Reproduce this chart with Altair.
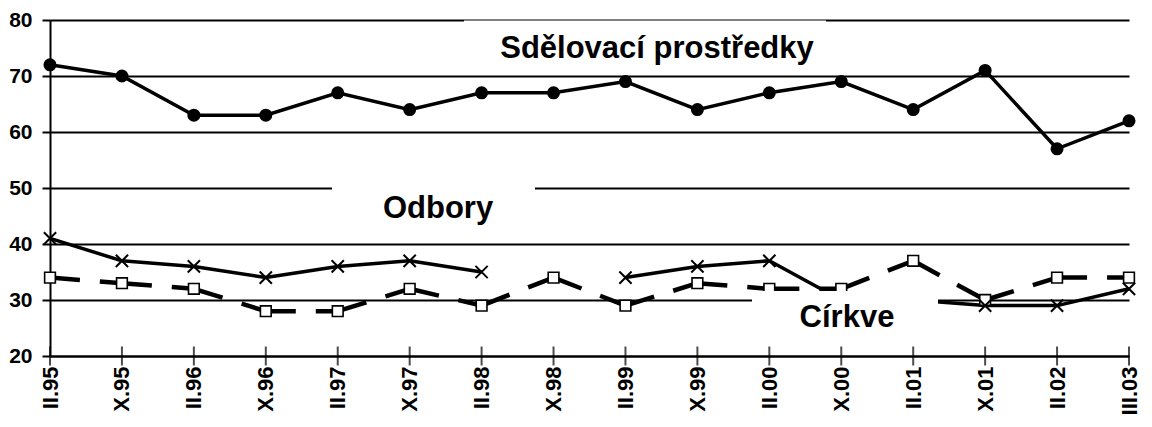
import altair as alt
import pandas as pd

# ---- data ----
periods = ["II.95", "X.95", "II.96", "X.96", "II.97", "X.97", "II.98", "X.98",
           "II.99", "X.99", "II.00", "X.00", "II.01", "X.01", "II.02", "III.03"]
media = [72, 70, 63, 63, 67, 64, 67, 67, 69, 64, 67, 69, 64, 71, 57, 62]
unions = [41, 37, 36, 34, 36, 37, 35, None, 34, 36, 37, 30, 30, 29, 29, 32]
churches = [34, 33, 32, 28, 28, 32, 29, 34, 29, 33, 32, 32, 37, 30, 34, 34]
y_ticks = [20, 30, 40, 50, 60, 70, 80]
series_labels = ["Sdělovací prostředky", "Odbory", "Církve"]

FONT = "Liberation Sans"
W, H = 1079, 336


def points(values):
    rows = [{"period": p, "value": v} for p, v in zip(periods, values) if v is not None]
    return pd.DataFrame(rows)


def segments(values):
    rows = []
    for i in range(len(periods) - 1):
        a, b = values[i], values[i + 1]
        if a is None or b is None:
            continue
        rows.append({"seg": i, "idx": 0, "period": periods[i], "value": a})
        rows.append({"seg": i, "idx": 1, "period": periods[i + 1], "value": b})
    return pd.DataFrame(rows)


x_enc = alt.X(
    "period:N",
    sort=periods,
    scale=alt.Scale(type="point", domain=periods, padding=0),
    axis=alt.Axis(
        title=None, labelAngle=-90, labelFont=FONT, labelFontSize=22,
        labelFontWeight="bold", labelColor="black", ticks=False,
        labelPadding=10, domainColor="black", domainWidth=2, grid=False,
        labelOverlap=False,
    ),
)
y_enc = alt.Y(
    "value:Q",
    scale=alt.Scale(domain=[20, 80], nice=False, zero=False),
    axis=alt.Axis(
        title=None, values=y_ticks, grid=True, gridColor="black", gridWidth=2,
        gridOpacity=1, domainColor="black", domainWidth=2, tickColor="black",
        tickSize=8, tickWidth=2, labelPadding=10, labelFont=FONT,
        labelFontSize=21, labelFontWeight="bold", labelColor="black",
    ),
)

media_line = alt.Chart(points(media)).mark_line(color="black", strokeWidth=3.5).encode(x=x_enc, y=y_enc)
media_pts = alt.Chart(points(media)).mark_point(
    shape="circle", filled=True, color="black", size=170, opacity=1
).encode(x=x_enc, y=y_enc)

church_line = alt.Chart(segments(churches)).mark_line(
    color="black", strokeWidth=4.5, strokeDash=[30, 20]
).encode(x=x_enc, y=y_enc, detail="seg:N", order="idx:Q")
church_pts = alt.Chart(points(churches)).mark_point(
    shape="square", filled=True, fill="white", stroke="black", strokeWidth=1.6,
    size=115, opacity=1
).encode(x=x_enc, y=y_enc)

union_line = alt.Chart(segments(unions)).mark_line(
    color="black", strokeWidth=3.5
).encode(x=x_enc, y=y_enc, detail="seg:N", order="idx:Q")
union_pts = alt.Chart(points(unions)).mark_point(
    shape="M-1,-1L1,1M-1,1L1,-1", filled=False, stroke="black", strokeWidth=2,
    size=150, opacity=1
).encode(x=x_enc, y=y_enc)

ticks = alt.Chart(points(media)).mark_tick(
    orient="vertical", size=19, thickness=2, color="black"
).encode(x=x_enc, y=alt.value(H))


def label_box(text, x1, x2, y1, y2, tx, ty):
    d = pd.DataFrame({"label": [text]})
    box = alt.Chart(d).mark_rect(color="white").encode(
        x=alt.value(x1), x2=alt.value(x2), y=alt.value(y1), y2=alt.value(y2)
    )
    txt = alt.Chart(d).mark_text(
        font=FONT, fontSize=31, fontWeight="bold", align="center",
        baseline="alphabetic", color="black"
    ).encode(x=alt.value(tx), y=alt.value(ty), text="label:N")
    return box + txt


lbl_media = label_box(series_labels[0], 414, 776, 0.6, 50, 607, 38)
lbl_unions = label_box(series_labels[1], 282, 485, 155, 212, 388, 198)
lbl_church = label_box(series_labels[2], 702, 888, 271, 322, 797, 307)

chart = alt.layer(
    media_line, church_line, union_line,
    media_pts, church_pts, union_pts,
    lbl_media, lbl_unions, lbl_church,
    ticks,
).properties(
    width=W, height=H,
    autosize=alt.AutoSizeParams(type="none"),
    padding={"left": 42, "top": 12, "right": 15, "bottom": 62},
).configure_view(stroke=None)

chart.save("out.html", embed_options={"renderer": "svg", "actions": False})
